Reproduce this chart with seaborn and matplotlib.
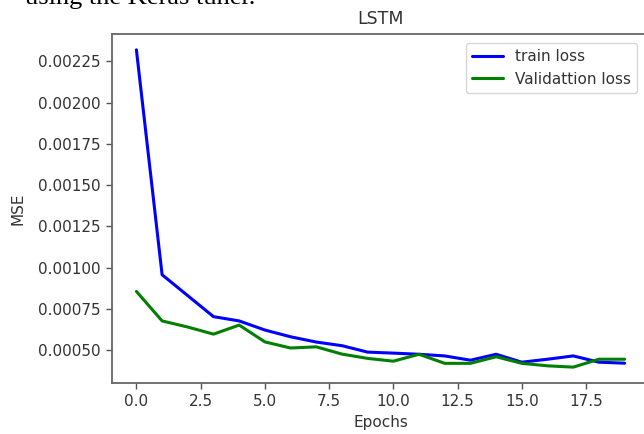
import numpy as np
import pandas as pd
import seaborn as sns
import matplotlib
matplotlib.use('Agg')
import matplotlib.pyplot as plt

epochs = list(range(20))
train_loss = [0.00232, 0.000957, 0.00083, 0.000703, 0.000677, 0.000622, 0.000581,
              0.000549, 0.000527, 0.000488, 0.000482, 0.000475, 0.000465, 0.000439,
              0.000475, 0.000427, 0.000445, 0.000465, 0.000427, 0.000421]
val_loss = [0.000856, 0.000677, 0.00064, 0.000597, 0.000652, 0.00055, 0.000513,
            0.00052, 0.000476, 0.00045, 0.000433, 0.000475, 0.00042, 0.00042,
            0.00046, 0.00042, 0.000405, 0.000397, 0.000445, 0.000445]
series_names = ['train loss', 'Validattion loss']
series_colors = ['blue', 'green']

sns.set_style('white')
plt.rcParams['font.family'] = ['DejaVu Sans']
text_color = '#333333'

fig = plt.figure(figsize=(6.44, 4.34), dpi=100)
ax = fig.add_axes([0.1739, 0.1175, 0.8339, 0.8042])

df = pd.DataFrame({'epoch': epochs * 2,
                   'loss': train_loss + val_loss,
                   'series': [series_names[0]] * 20 + [series_names[1]] * 20})
sns.lineplot(data=df, x='epoch', y='loss', hue='series',
             palette=dict(zip(series_names, series_colors)),
             linewidth=2.2, ax=ax)

ax.set_xticks([0, 2.5, 5, 7.5, 10, 12.5, 15, 17.5])
ax.set_xticklabels(['0.0', '2.5', '5.0', '7.5', '10.0', '12.5', '15.0', '17.5'])
ax.set_yticks([0.0005, 0.00075, 0.001, 0.00125, 0.0015, 0.00175, 0.002, 0.00225])
ax.set_yticklabels(['0.00050', '0.00075', '0.00100', '0.00125', '0.00150',
                    '0.00175', '0.00200', '0.00225'])
ax.tick_params(axis='both', which='both', length=4.5, width=1, color='#555555',
               labelsize=11, labelcolor=text_color, bottom=True, left=True)
for sp in ax.spines.values():
    sp.set_color('#666666')
    sp.set_linewidth(1.3)

ax.set_xlabel('Epochs', fontsize=11, color=text_color)
ax.set_ylabel('MSE', fontsize=11, color=text_color, labelpad=9)
ax.set_title('LSTM', fontsize=12.5, color=text_color, pad=7)

leg = ax.legend(loc='upper right', bbox_to_anchor=(0.9777, 0.9742),
                borderaxespad=0, fontsize=11, frameon=True)
leg.get_frame().set_edgecolor('#cccccc')
for t in leg.get_texts():
    t.set_color(text_color)
for h in leg.get_lines():
    h.set_linewidth(2.2)

# caption line of the page above the chart, cut by the top edge
fig.text(0.0388, 1 - 4 / 434, 'using the Keras tuner.', family='Liberation Serif',
         fontsize=19, color='black', va='baseline', ha='left')

fig.savefig('out.png', dpi=100)
